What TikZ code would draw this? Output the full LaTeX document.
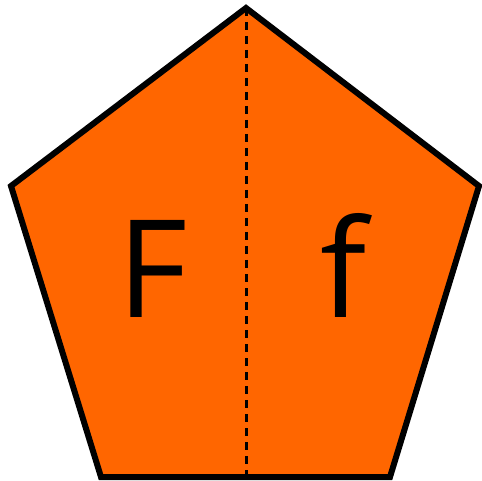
\documentclass[tikz,border=0pt]{standalone}
\usepackage{fontspec}
\setmainfont{Open Sans}
\definecolor{orng}{HTML}{FF6600}
\begin{document}
\begin{tikzpicture}[x=1pt,y=1pt,
  pent/.style={fill=orng,draw=black,line width=6pt,line join=miter},
  fold/.style={draw=black,line width=3pt,dash pattern=on 8pt off 6pt},
  letter/.style={anchor=base,inner sep=0pt,font=\fontsize{136}{136}\selectfont}]
\useasboundingbox (0,0) rectangle (482,480);
\coordinate (T) at (246,472);
\coordinate (L) at (11,294);
\coordinate (R) at (479,294);
\coordinate (BR) at (390,3);
\coordinate (BL) at (101,3);
\coordinate (B) at (246,3);
\draw[pent] (T) -- (R) -- (BR) -- (BL) -- (L) -- cycle;
\draw[fold] (T) -- (B);
\node[letter] (F) at (153,163) {F};
\node[letter] (f) at (344,163) {f};
\end{tikzpicture}
\end{document}
